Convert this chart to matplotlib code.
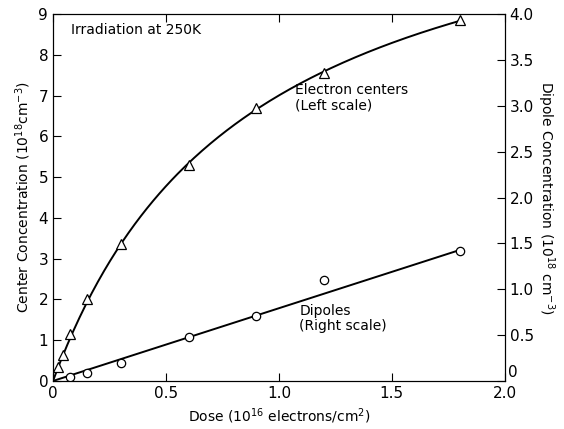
import numpy as np
import matplotlib.pyplot as plt

plt.rcParams['font.family'] = ['DejaVu Sans']

# electron centers (left scale)
dose_e = [0.02, 0.045, 0.075, 0.15, 0.3, 0.6, 0.9, 1.2, 1.8]
centers = [0.34, 0.63, 1.15, 2.0, 3.35, 5.3, 6.7, 7.55, 8.85]

# dipoles (right scale)
dose_d = [0.075, 0.15, 0.3, 0.6, 0.9, 1.2, 1.8]
dipoles = [0.04, 0.09, 0.2, 0.48, 0.71, 1.1, 1.42]

x_ticks = [0, 0.5, 1.0, 1.5, 2.0]
x_labels = ['0', '0.5', '1.0', '1.5', '2.0']
right_ticks = [0, 0.5, 1.0, 1.5, 2.0, 2.5, 3.0, 3.5, 4.0]
right_labels = ['', '0.5', '1.0', '1.5', '2.0', '2.5', '3.0', '3.5', '4.0']

fig = plt.figure(figsize=(5.64, 4.29), dpi=100)
ax = fig.add_axes([0.094, 0.112, 0.801, 0.855])
ax2 = ax.twinx()

# saturating fit y = a*x / (1 + b*x), linearised as x/y = 1/a + (b/a)*x
xe = np.array(dose_e)
ye = np.array(centers)
k1, k0 = np.polyfit(xe, xe / ye, 1, w=ye)
a, b = 1 / k0, k1 / k0
xs = np.linspace(0, max(dose_e), 200)
ax.plot(xs, a * xs / (1 + b * xs), color='black', lw=1.4)
ax.plot(dose_e, centers, '^', ms=7, mfc='white', mec='black', mew=0.9)

# straight line through origin for dipoles
xd = np.array(dose_d)
yd = np.array(dipoles)
slope = np.sum(xd * yd) / np.sum(xd * xd) * 0.97
ax2.plot([0, max(dose_d)], [0, slope * max(dose_d)], color='black', lw=1.4)
ax2.plot(dose_d, dipoles, 'o', ms=6, mfc='white', mec='black', mew=0.9)

ax.set_xlim(0, 2.0)
ax.set_ylim(0, 9)
ax2.set_ylim(0, 4)
ax.set_xticks(x_ticks)
ax.set_xticklabels(x_labels)
ax.set_yticks(range(10))
ax2.set_yticks(right_ticks)
ax2.set_yticklabels(right_labels)
ax2.text(2.015, 0.01, '0', fontsize=11, ha='left', va='bottom')

ax.tick_params(direction='in', length=6, labelsize=11, top=True)
ax2.tick_params(direction='in', length=6, labelsize=11)

ax.set_xlabel('Dose (10$^{16}$ electrons/cm$^2$)', fontsize=10)
ax.set_ylabel('Center Concentration (10$^{18}$cm$^{-3}$)', fontsize=10)
ax2.set_ylabel('Dipole Concentration (10$^{18}$ cm$^{-3}$)', fontsize=10,
               rotation=270, labelpad=16)

ax.text(0.08, 8.6, 'Irradiation at 250K', fontsize=10, va='center')
ax.text(1.07, 7.3, 'Electron centers\n(Left scale)', fontsize=10,
        va='top', linespacing=1.1)
ax.text(1.09, 1.9, 'Dipoles\n(Right scale)', fontsize=10,
        va='top', linespacing=1.1)

fig.savefig('out.png', dpi=100)
